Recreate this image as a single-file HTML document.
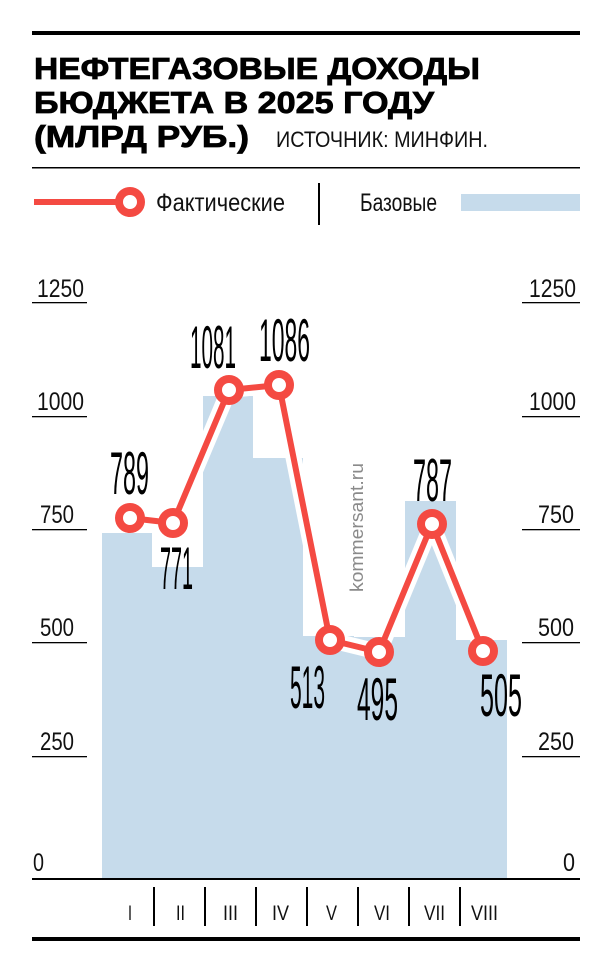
<!DOCTYPE html>
<html><head><meta charset="utf-8"><style>
html,body{margin:0;padding:0;background:#fff;}
svg{display:block;}
</style></head><body>
<svg width="611" height="972" viewBox="0 0 611 972" xmlns="http://www.w3.org/2000/svg" font-family="'Liberation Sans Narrow','Liberation Sans',sans-serif">
<rect width="611" height="972" fill="#fff"/>
<rect x="32" y="31" width="548" height="4" fill="#000"/>
<g font-family="'Liberation Sans',sans-serif" font-weight="bold" font-size="31" fill="#000" stroke="#000" stroke-width="0.8">
<text x="34" y="79" textLength="446" lengthAdjust="spacingAndGlyphs">НЕФТЕГАЗОВЫЕ ДОХОДЫ</text>
<text x="34" y="113" textLength="400" lengthAdjust="spacingAndGlyphs">БЮДЖЕТА В 2025 ГОДУ</text>
<text x="34" y="147" textLength="215" lengthAdjust="spacingAndGlyphs">(МЛРД РУБ.)</text>
</g>
<text x="276" y="147" font-size="22" textLength="212" lengthAdjust="spacingAndGlyphs" fill="#111">ИСТОЧНИК: МИНФИН.</text>
<rect x="32" y="167" width="548" height="1.5" fill="#000"/>
<line x1="34" y1="202" x2="125" y2="202" stroke="#f44a42" stroke-width="6"/>
<circle cx="130" cy="202" r="11" fill="#fff" stroke="#f44a42" stroke-width="8"/>
<text x="156" y="211" font-size="25" textLength="129" lengthAdjust="spacingAndGlyphs" fill="#111">Фактические</text>
<rect x="318" y="183" width="2" height="42" fill="#000"/>
<text x="360" y="211" font-size="25" textLength="77" lengthAdjust="spacingAndGlyphs" fill="#111">Базовые</text>
<rect x="461" y="194" width="119" height="17" fill="#c6dbeb"/>
<path d="M102 878 L102 533 L152 533 L152 567 L203 567 L203 396 L253 396 L253 458 L303 458 L303 636 L354 636 L354 637 L405 637 L405 501 L456 501 L456 640 L507 640 L507 878 Z" fill="#c6dbeb"/>
<g fill="#000">
<rect x="32" y="302" width="55" height="1.3"/><rect x="522" y="302" width="58" height="1.3"/>
<rect x="32" y="416" width="55" height="1.3"/><rect x="522" y="416" width="58" height="1.3"/>
<rect x="32" y="529" width="55" height="1.3"/><rect x="522" y="529" width="58" height="1.3"/>
<rect x="32" y="642" width="55" height="1.3"/><rect x="522" y="642" width="58" height="1.3"/>
<rect x="32" y="756" width="55" height="1.3"/><rect x="522" y="756" width="58" height="1.3"/>
<rect x="32" y="878" width="548" height="2"/>
</g>
<g font-size="25" fill="#111">
<text x="37" y="297" textLength="47" lengthAdjust="spacingAndGlyphs">1250</text>
<text x="37" y="410" textLength="47" lengthAdjust="spacingAndGlyphs">1000</text>
<text x="40" y="523" textLength="34" lengthAdjust="spacingAndGlyphs">750</text>
<text x="40" y="636" textLength="34" lengthAdjust="spacingAndGlyphs">500</text>
<text x="40" y="750" textLength="34" lengthAdjust="spacingAndGlyphs">250</text>
<text x="33" y="871" textLength="11" lengthAdjust="spacingAndGlyphs">0</text>
<text x="529" y="297" textLength="47" lengthAdjust="spacingAndGlyphs">1250</text>
<text x="529" y="410" textLength="47" lengthAdjust="spacingAndGlyphs">1000</text>
<text x="538" y="523" textLength="36" lengthAdjust="spacingAndGlyphs">750</text>
<text x="538" y="636" textLength="36" lengthAdjust="spacingAndGlyphs">500</text>
<text x="538" y="750" textLength="36" lengthAdjust="spacingAndGlyphs">250</text>
<text x="563" y="871" textLength="12" lengthAdjust="spacingAndGlyphs">0</text>
</g>
<text transform="translate(363,592) rotate(-90)" font-size="18" fill="#8a8a8a" textLength="129" lengthAdjust="spacingAndGlyphs">kommersant.ru</text>
<polyline points="130,518 173,523 229,390 279,385 330,640 379,652 432,524 483,651" fill="none" stroke="#fff" stroke-width="16" stroke-linejoin="round"/>
<polyline points="130,518 173,523 229,390 279,385 330,640 379,652 432,524 483,651" fill="none" stroke="#f44a42" stroke-width="6" stroke-linejoin="round"/>
<g fill="#fff" stroke="#f44a42" stroke-width="8">
<circle cx="130" cy="518" r="11"/><circle cx="173" cy="523" r="11"/>
<circle cx="229" cy="390" r="11"/><circle cx="279" cy="385" r="11"/>
<circle cx="330" cy="640" r="11"/><circle cx="379" cy="652" r="11"/>
<circle cx="432" cy="524" r="11"/><circle cx="483" cy="651" r="11"/>
</g>
<g font-size="60" fill="#000">
<text x="110" y="494" textLength="39" lengthAdjust="spacingAndGlyphs">789</text>
<text x="160" y="589" textLength="33" lengthAdjust="spacingAndGlyphs">771</text>
<text x="190" y="368" textLength="46" lengthAdjust="spacingAndGlyphs">1081</text>
<text x="259" y="361" textLength="51" lengthAdjust="spacingAndGlyphs">1086</text>
<text x="290" y="708" textLength="35" lengthAdjust="spacingAndGlyphs">513</text>
<text x="357" y="720" textLength="41" lengthAdjust="spacingAndGlyphs">495</text>
<text x="413" y="501" textLength="39" lengthAdjust="spacingAndGlyphs">787</text>
<text x="480" y="716" textLength="42" lengthAdjust="spacingAndGlyphs">505</text>
</g>
<g fill="#000">
<rect x="153" y="887" width="2" height="39"/><rect x="204" y="887" width="2" height="39"/>
<rect x="255" y="887" width="2" height="39"/><rect x="306" y="887" width="2" height="39"/>
<rect x="357" y="887" width="2" height="39"/><rect x="408" y="887" width="2" height="39"/>
<rect x="459" y="887" width="2" height="39"/>
</g>
<g font-size="21" fill="#111">
<text x="128" y="920" textLength="4" lengthAdjust="spacingAndGlyphs">I</text>
<text x="176" y="920" textLength="9" lengthAdjust="spacingAndGlyphs">II</text>
<text x="223" y="920" textLength="15" lengthAdjust="spacingAndGlyphs">III</text>
<text x="272" y="920" textLength="17" lengthAdjust="spacingAndGlyphs">IV</text>
<text x="326" y="920" textLength="11" lengthAdjust="spacingAndGlyphs">V</text>
<text x="374" y="920" textLength="16" lengthAdjust="spacingAndGlyphs">VI</text>
<text x="424" y="920" textLength="21" lengthAdjust="spacingAndGlyphs">VII</text>
<text x="471" y="920" textLength="27" lengthAdjust="spacingAndGlyphs">VIII</text>
</g>
<rect x="32" y="937" width="548" height="4" fill="#000"/>
</svg>
</body></html>
